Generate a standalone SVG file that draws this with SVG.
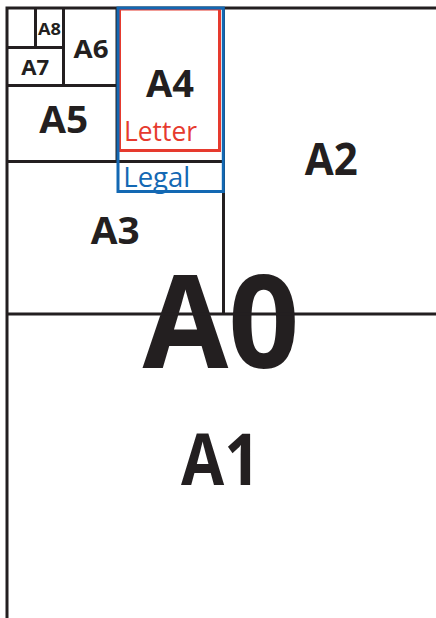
<svg xmlns="http://www.w3.org/2000/svg" width="436" height="618" viewBox="0 0 436 618">
<style>
.edge{fill:none;stroke:#231f20;stroke-width:3}
.lbl{font-family:"Open Sans","Liberation Sans",sans-serif;font-weight:700;fill:#231f20;text-anchor:middle}
.sub{font-family:"Open Sans","Liberation Sans",sans-serif;font-weight:400}
</style>
<rect width="436" height="618" fill="#fff"/>
<g id="A0">
<text class="lbl" x="221" y="368" font-size="130" textLength="157" lengthAdjust="spacingAndGlyphs">A0</text>
<path class="edge" d="M7,618 V8 H436"/>
</g>
<g id="A1">
<path class="edge" d="M7,314 H436"/>
<text class="lbl" x="220.5" y="485" font-size="72" textLength="79" lengthAdjust="spacingAndGlyphs">A1</text>
</g>
<g id="A2">
<path class="edge" d="M223.5,8 V314"/>
<text class="lbl" x="331.3" y="175" font-size="45" textLength="53" lengthAdjust="spacingAndGlyphs">A2</text>
</g>
<g id="A3">
<path class="edge" d="M7,161.5 H223.5"/>
<text class="lbl" x="115.3" y="244.3" font-size="38" textLength="49" lengthAdjust="spacingAndGlyphs">A3</text>
</g>
<g id="A4">
<path class="edge" d="M117,8 V161.5"/>
<text class="lbl" x="170" y="97" font-size="38" textLength="48" lengthAdjust="spacingAndGlyphs">A4</text>
</g>
<g id="A5">
<path class="edge" d="M7,85.5 H117"/>
<text class="lbl" x="63.7" y="133.3" font-size="38" textLength="49" lengthAdjust="spacingAndGlyphs">A5</text>
</g>
<g id="A6">
<path class="edge" d="M63.5,8 V85.5"/>
<text class="lbl" x="91" y="58.3" font-size="25.6" textLength="35" lengthAdjust="spacingAndGlyphs">A6</text>
</g>
<g id="A7">
<path class="edge" d="M7,47.5 H63.5"/>
<text class="lbl" x="35.3" y="75" font-size="22" textLength="28" lengthAdjust="spacingAndGlyphs">A7</text>
</g>
<g id="A8">
<path class="edge" d="M35.5,8 V47.5"/>
<text class="lbl" x="49.5" y="35" font-size="15.5" textLength="23" lengthAdjust="spacingAndGlyphs">A8</text>
</g>
<g id="Letter">
<rect x="119.5" y="9" width="100" height="141.5" fill="none" stroke="#e63a2e" stroke-width="3"/>
<text class="sub" x="124" y="140.5" font-size="28" fill="#e63a2e" textLength="73" lengthAdjust="spacingAndGlyphs">Letter</text>
</g>
<g id="Legal">
<rect x="118" y="8" width="105.3" height="183.5" fill="none" stroke="#1368b3" stroke-width="3"/>
<text class="sub" x="123.3" y="186.5" font-size="27" fill="#1368b3" textLength="67" lengthAdjust="spacingAndGlyphs">Legal</text>
</g>
</svg>
